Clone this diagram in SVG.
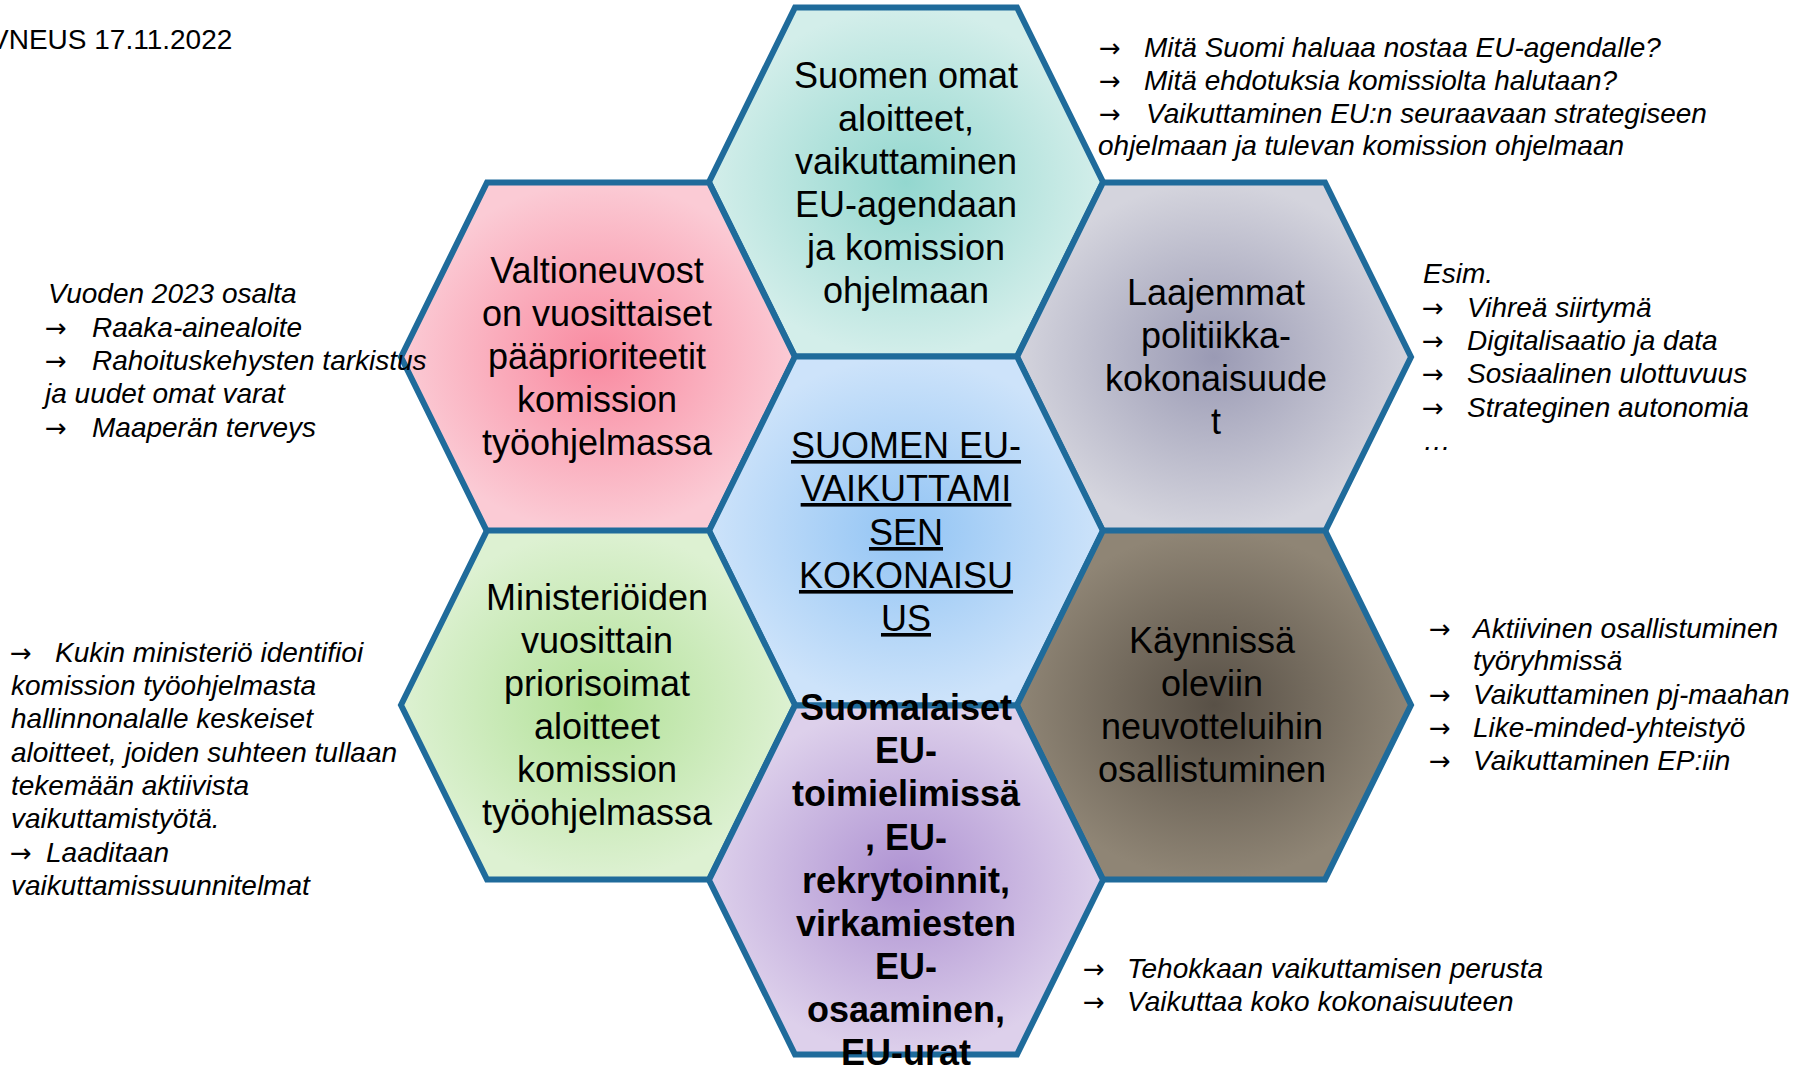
<svg xmlns="http://www.w3.org/2000/svg" width="1794" height="1072" viewBox="0 0 1794 1072">
<style>
text{font-family:"Liberation Sans",Arial,sans-serif;fill:#000}
.hex{stroke:#1F6B9B;stroke-width:6;stroke-linejoin:miter}
.lbl{font-size:36px;text-anchor:middle}
.b{font-weight:bold}
.u{text-decoration:underline}
.side{font-size:28px;font-style:italic}
.arr{font-style:normal;font-family:"DejaVu Sans",sans-serif;font-size:26px}
.hdr{font-size:28px}
</style>
<defs>
<radialGradient id="gTeal" cx="0.5" cy="0.5" r="0.5"><stop offset="0" stop-color="#93D7CF"/><stop offset="1" stop-color="#D3EEEA"/></radialGradient>
<radialGradient id="gPink" cx="0.5" cy="0.5" r="0.5"><stop offset="0" stop-color="#F98AA0"/><stop offset="1" stop-color="#FBCBD5"/></radialGradient>
<radialGradient id="gGray" cx="0.5" cy="0.5" r="0.5"><stop offset="0" stop-color="#9A9AB4"/><stop offset="1" stop-color="#D4D4DD"/></radialGradient>
<radialGradient id="gBlue" cx="0.5" cy="0.5" r="0.5"><stop offset="0" stop-color="#92C4F4"/><stop offset="1" stop-color="#CDE3FA"/></radialGradient>
<radialGradient id="gGreen" cx="0.5" cy="0.5" r="0.5"><stop offset="0" stop-color="#B2E198"/><stop offset="1" stop-color="#DDF1D2"/></radialGradient>
<radialGradient id="gBrown" cx="0.5" cy="0.5" r="0.5"><stop offset="0" stop-color="#585046"/><stop offset="1" stop-color="#8F8575"/></radialGradient>
<radialGradient id="gPurple" cx="0.5" cy="0.5" r="0.5"><stop offset="0" stop-color="#AE92D2"/><stop offset="1" stop-color="#DDD0EB"/></radialGradient>
</defs>

<g id="connectors"></g>

<g id="hex-teal">
<polygon class="hex" fill="url(#gTeal)" points="709,182 795,7.5 1017,7.5 1103,182 1017,356.5 795,356.5"/>
<text class="lbl"><tspan x="906" y="88">Suomen omat</tspan><tspan x="906" y="131">aloitteet,</tspan><tspan x="906" y="174">vaikuttaminen</tspan><tspan x="906" y="217">EU-agendaan</tspan><tspan x="906" y="260">ja komission</tspan><tspan x="906" y="303">ohjelmaan</tspan></text>
</g>

<g id="hex-pink">
<polygon class="hex" fill="url(#gPink)" points="401,357 487,182.5 709,182.5 795,357 709,531.5 487,531.5"/>
<text class="lbl"><tspan x="597" y="283">Valtioneuvost</tspan><tspan x="597" y="326">on vuosittaiset</tspan><tspan x="597" y="369">pääprioriteetit</tspan><tspan x="597" y="412">komission</tspan><tspan x="597" y="455">työohjelmassa</tspan></text>
</g>

<g id="hex-gray">
<polygon class="hex" fill="url(#gGray)" points="1017,357 1103,182.5 1325,182.5 1411,357 1325,531.5 1103,531.5"/>
<text class="lbl"><tspan x="1216" y="305">Laajemmat</tspan><tspan x="1216" y="348">politiikka-</tspan><tspan x="1216" y="391">kokonaisuude</tspan><tspan x="1216" y="434">t</tspan></text>
</g>

<g id="hex-blue">
<polygon class="hex" fill="url(#gBlue)" points="709,531 795,356.5 1017,356.5 1103,531 1017,705.5 795,705.5"/>
<text class="lbl u"><tspan x="906" y="458">SUOMEN EU-</tspan><tspan x="906" y="501">VAIKUTTAMI</tspan><tspan x="906" y="545">SEN</tspan><tspan x="906" y="588">KOKONAISU</tspan><tspan x="906" y="631">US</tspan></text>
</g>

<g id="hex-green">
<polygon class="hex" fill="url(#gGreen)" points="401,705 487,530.5 709,530.5 795,705 709,879.5 487,879.5"/>
<text class="lbl"><tspan x="597" y="610">Ministeriöiden</tspan><tspan x="597" y="653">vuosittain</tspan><tspan x="597" y="696">priorisoimat</tspan><tspan x="597" y="739">aloitteet</tspan><tspan x="597" y="782">komission</tspan><tspan x="597" y="825">työohjelmassa</tspan></text>
</g>

<g id="hex-brown">
<polygon class="hex" fill="url(#gBrown)" points="1017,705 1103,530.5 1325,530.5 1411,705 1325,879.5 1103,879.5"/>
<text class="lbl"><tspan x="1212" y="653">Käynnissä</tspan><tspan x="1212" y="696">oleviin</tspan><tspan x="1212" y="739">neuvotteluihin</tspan><tspan x="1212" y="782">osallistuminen</tspan></text>
</g>

<g id="hex-purple">
<polygon class="hex" fill="url(#gPurple)" points="709,880 795,705.5 1017,705.5 1103,880 1017,1054.5 795,1054.5"/>
<text class="lbl b"><tspan x="906" y="720">Suomalaiset</tspan><tspan x="906" y="763">EU-</tspan><tspan x="906" y="806">toimielimissä</tspan><tspan x="906" y="850">, EU-</tspan><tspan x="906" y="893">rekrytoinnit,</tspan><tspan x="906" y="936">virkamiesten</tspan><tspan x="906" y="979">EU-</tspan><tspan x="906" y="1022">osaaminen,</tspan><tspan x="906" y="1065">EU-urat</tspan></text>
</g>

<g id="header">
<text class="hdr" x="-10" y="49">VNEUS 17.11.2022</text>
</g>

<g id="note-left-top">
<text class="side">
<tspan x="48" y="303">Vuoden 2023 osalta</tspan>
<tspan class="arr" x="45" y="337">→</tspan><tspan x="92" y="337">Raaka-ainealoite</tspan>
<tspan class="arr" x="45" y="370">→</tspan><tspan x="92" y="370">Rahoituskehysten tarkistus</tspan>
<tspan x="45" y="403">ja uudet omat varat</tspan>
<tspan class="arr" x="45" y="437">→</tspan><tspan x="92" y="437">Maaperän terveys</tspan>
</text>
</g>

<g id="note-left-bottom">
<text class="side">
<tspan class="arr" x="10" y="662">→</tspan><tspan x="55" y="662">Kukin ministeriö identifioi</tspan>
<tspan x="11" y="695">komission työohjelmasta</tspan>
<tspan x="11" y="728">hallinnonalalle keskeiset</tspan>
<tspan x="11" y="762">aloitteet, joiden suhteen tullaan</tspan>
<tspan x="11" y="795">tekemään aktiivista</tspan>
<tspan x="11" y="828">vaikuttamistyötä.</tspan>
<tspan class="arr" x="10" y="862">→</tspan><tspan x="46" y="862">Laaditaan</tspan>
<tspan x="11" y="895">vaikuttamissuunnitelmat</tspan>
</text>
</g>

<g id="note-right-top">
<text class="side">
<tspan class="arr" x="1099" y="57">→</tspan><tspan x="1144" y="57">Mitä Suomi haluaa nostaa EU-agendalle?</tspan>
<tspan class="arr" x="1099" y="90">→</tspan><tspan x="1144" y="90">Mitä ehdotuksia komissiolta halutaan?</tspan>
<tspan class="arr" x="1099" y="123">→</tspan><tspan x="1146" y="123">Vaikuttaminen EU:n seuraavaan strategiseen</tspan>
<tspan x="1098" y="155">ohjelmaan ja tulevan komission ohjelmaan</tspan>
</text>
</g>

<g id="note-right-mid">
<text class="side">
<tspan x="1423" y="283">Esim.</tspan>
<tspan class="arr" x="1422" y="317">→</tspan><tspan x="1467" y="317">Vihreä siirtymä</tspan>
<tspan class="arr" x="1422" y="350">→</tspan><tspan x="1467" y="350">Digitalisaatio ja data</tspan>
<tspan class="arr" x="1422" y="383">→</tspan><tspan x="1467" y="383">Sosiaalinen ulottuvuus</tspan>
<tspan class="arr" x="1422" y="417">→</tspan><tspan x="1467" y="417">Strateginen autonomia</tspan>
<tspan x="1423" y="450">…</tspan>
</text>
</g>

<g id="note-right-bottom">
<text class="side">
<tspan class="arr" x="1429" y="638">→</tspan><tspan x="1473" y="638">Aktiivinen osallistuminen</tspan>
<tspan x="1473" y="670">työryhmissä</tspan>
<tspan class="arr" x="1429" y="704">→</tspan><tspan x="1473" y="704">Vaikuttaminen pj-maahan</tspan>
<tspan class="arr" x="1429" y="737">→</tspan><tspan x="1473" y="737">Like-minded-yhteistyö</tspan>
<tspan class="arr" x="1429" y="770">→</tspan><tspan x="1473" y="770">Vaikuttaminen EP:iin</tspan>
</text>
</g>

<g id="note-bottom">
<text class="side">
<tspan class="arr" x="1083" y="978">→</tspan><tspan x="1127" y="978">Tehokkaan vaikuttamisen perusta</tspan>
<tspan class="arr" x="1083" y="1011">→</tspan><tspan x="1127" y="1011">Vaikuttaa koko kokonaisuuteen</tspan>
</text>
</g>
</svg>
